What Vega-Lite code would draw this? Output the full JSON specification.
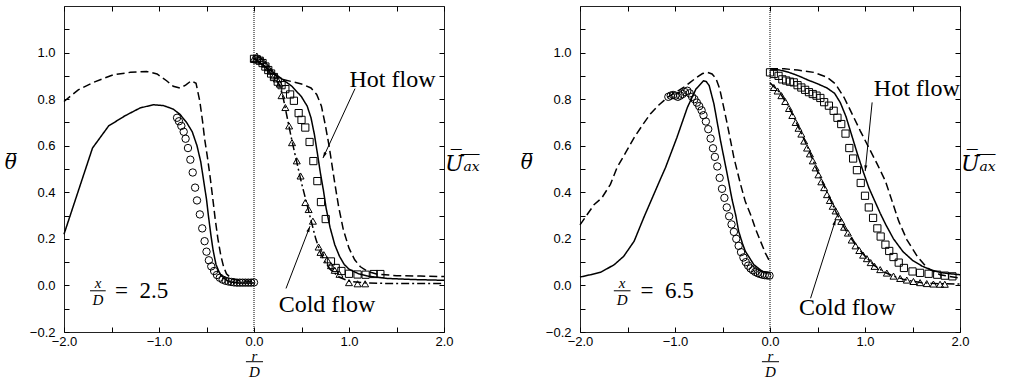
{
"$schema":"https://vega.github.io/schema/vega-lite/v6.json",
"padding":{"left":3,"top":5,"right":5,"bottom":2},
"background":"white",
"config":{
 "view":{"stroke":"#222","strokeWidth":1},
 "axis":{"domain":false,"grid":false,"tickColor":"black","tickSize":-5,"tickWidth":1,"labelFont":"Liberation Sans","labelFontSize":13,"labelColor":"black","labelOverlap":false,"labelFlush":false,"labelBound":false,"titleColor":"black","titleFontWeight":"normal"}
},
"datasets":{
"p1":[
{"s":"ts","r":-2.0,"v":0.22},{"s":"ts","r":-1.7,"v":0.59},{"s":"ts","r":-1.53,"v":0.685},{"s":"ts","r":-1.36,"v":0.728},{"s":"ts","r":-1.2,"v":0.762},{"s":"ts","r":-1.06,"v":0.776},{"s":"ts","r":-0.95,"v":0.772},{"s":"ts","r":-0.85,"v":0.757},{"s":"ts","r":-0.78,"v":0.735},{"s":"ts","r":-0.71,"v":0.70},{"s":"ts","r":-0.65,"v":0.66},{"s":"ts","r":-0.60,"v":0.60},{"s":"ts","r":-0.56,"v":0.53},{"s":"ts","r":-0.53,"v":0.45},{"s":"ts","r":-0.50,"v":0.37},{"s":"ts","r":-0.48,"v":0.30},{"s":"ts","r":-0.455,"v":0.22},{"s":"ts","r":-0.43,"v":0.15},{"s":"ts","r":-0.40,"v":0.09},{"s":"ts","r":-0.36,"v":0.05},{"s":"ts","r":-0.30,"v":0.025},{"s":"ts","r":-0.25,"v":0.015},{"s":"ts","r":-0.15,"v":0.01},{"s":"ts","r":0,"v":0.01},
{"s":"td","r":-2.0,"v":0.79},{"s":"td","r":-1.85,"v":0.84},{"s":"td","r":-1.69,"v":0.872},{"s":"td","r":-1.48,"v":0.905},{"s":"td","r":-1.3,"v":0.915},{"s":"td","r":-1.13,"v":0.919},{"s":"td","r":-1.02,"v":0.908},{"s":"td","r":-0.92,"v":0.879},{"s":"td","r":-0.85,"v":0.855},{"s":"td","r":-0.78,"v":0.848},{"s":"td","r":-0.72,"v":0.86},{"s":"td","r":-0.66,"v":0.879},{"s":"td","r":-0.61,"v":0.868},{"s":"td","r":-0.57,"v":0.79},{"s":"td","r":-0.54,"v":0.70},{"s":"td","r":-0.52,"v":0.63},{"s":"td","r":-0.49,"v":0.55},{"s":"td","r":-0.46,"v":0.46},{"s":"td","r":-0.43,"v":0.36},{"s":"td","r":-0.41,"v":0.29},{"s":"td","r":-0.38,"v":0.2},{"s":"td","r":-0.35,"v":0.13},{"s":"td","r":-0.32,"v":0.08},{"s":"td","r":-0.29,"v":0.05},{"s":"td","r":-0.24,"v":0.03},{"s":"td","r":-0.15,"v":0.02},{"s":"td","r":0,"v":0.018},
{"s":"tc","r":-0.81,"v":0.72},{"s":"tc","r":-0.79,"v":0.705},{"s":"tc","r":-0.765,"v":0.685},{"s":"tc","r":-0.74,"v":0.66},{"s":"tc","r":-0.72,"v":0.63},{"s":"tc","r":-0.695,"v":0.59},{"s":"tc","r":-0.67,"v":0.54},{"s":"tc","r":-0.645,"v":0.485},{"s":"tc","r":-0.62,"v":0.42},{"s":"tc","r":-0.60,"v":0.365},{"s":"tc","r":-0.57,"v":0.305},{"s":"tc","r":-0.545,"v":0.245},{"s":"tc","r":-0.52,"v":0.19},{"s":"tc","r":-0.50,"v":0.145},{"s":"tc","r":-0.475,"v":0.108},{"s":"tc","r":-0.45,"v":0.082},{"s":"tc","r":-0.42,"v":0.062},{"s":"tc","r":-0.39,"v":0.045},{"s":"tc","r":-0.36,"v":0.033},{"s":"tc","r":-0.33,"v":0.025},{"s":"tc","r":-0.30,"v":0.02},{"s":"tc","r":-0.27,"v":0.017},{"s":"tc","r":-0.24,"v":0.015},{"s":"tc","r":-0.21,"v":0.013},{"s":"tc","r":-0.18,"v":0.012},{"s":"tc","r":-0.15,"v":0.012},{"s":"tc","r":-0.12,"v":0.012},{"s":"tc","r":-0.09,"v":0.012},{"s":"tc","r":-0.06,"v":0.012},{"s":"tc","r":-0.03,"v":0.012},{"s":"tc","r":0.0,"v":0.013},
{"s":"us","r":0,"v":0.975},{"s":"us","r":0.1,"v":0.945},{"s":"us","r":0.2,"v":0.915},{"s":"us","r":0.3,"v":0.885},{"s":"us","r":0.4,"v":0.855},{"s":"us","r":0.5,"v":0.81},{"s":"us","r":0.56,"v":0.77},{"s":"us","r":0.6,"v":0.72},{"s":"us","r":0.635,"v":0.65},{"s":"us","r":0.67,"v":0.56},{"s":"us","r":0.7,"v":0.48},{"s":"us","r":0.73,"v":0.41},{"s":"us","r":0.76,"v":0.33},{"s":"us","r":0.8,"v":0.25},{"s":"us","r":0.85,"v":0.175},{"s":"us","r":0.9,"v":0.125},{"s":"us","r":0.95,"v":0.09},{"s":"us","r":1.0,"v":0.07},{"s":"us","r":1.1,"v":0.05},{"s":"us","r":1.2,"v":0.04},{"s":"us","r":1.4,"v":0.03},{"s":"us","r":1.7,"v":0.025},{"s":"us","r":2.0,"v":0.022},
{"s":"ud","r":0,"v":0.975},{"s":"ud","r":0.1,"v":0.945},{"s":"ud","r":0.2,"v":0.91},{"s":"ud","r":0.3,"v":0.885},{"s":"ud","r":0.4,"v":0.875},{"s":"ud","r":0.5,"v":0.865},{"s":"ud","r":0.6,"v":0.848},{"s":"ud","r":0.66,"v":0.82},{"s":"ud","r":0.71,"v":0.77},{"s":"ud","r":0.75,"v":0.69},{"s":"ud","r":0.79,"v":0.6},{"s":"ud","r":0.82,"v":0.52},{"s":"ud","r":0.85,"v":0.44},{"s":"ud","r":0.89,"v":0.34},{"s":"ud","r":0.94,"v":0.24},{"s":"ud","r":1.0,"v":0.16},{"s":"ud","r":1.06,"v":0.11},{"s":"ud","r":1.12,"v":0.08},{"s":"ud","r":1.2,"v":0.06},{"s":"ud","r":1.3,"v":0.048},{"s":"ud","r":1.5,"v":0.042},{"s":"ud","r":1.75,"v":0.04},{"s":"ud","r":2.0,"v":0.038},
{"s":"uc","r":0,"v":0.975},{"s":"uc","r":0.1,"v":0.945},{"s":"uc","r":0.2,"v":0.9},{"s":"uc","r":0.27,"v":0.86},{"s":"uc","r":0.31,"v":0.8},{"s":"uc","r":0.35,"v":0.72},{"s":"uc","r":0.4,"v":0.62},{"s":"uc","r":0.45,"v":0.53},{"s":"uc","r":0.5,"v":0.44},{"s":"uc","r":0.55,"v":0.36},{"s":"uc","r":0.6,"v":0.28},{"s":"uc","r":0.65,"v":0.2},{"s":"uc","r":0.7,"v":0.14},{"s":"uc","r":0.75,"v":0.1},{"s":"uc","r":0.8,"v":0.07},{"s":"uc","r":0.9,"v":0.035},{"s":"uc","r":1.0,"v":0.018},{"s":"uc","r":1.2,"v":0.01},{"s":"uc","r":1.5,"v":0.008},{"s":"uc","r":2.0,"v":0.008},
{"s":"uh","r":0.0,"v":0.973},{"s":"uh","r":0.03,"v":0.97},{"s":"uh","r":0.06,"v":0.965},{"s":"uh","r":0.09,"v":0.955},{"s":"uh","r":0.12,"v":0.94},{"s":"uh","r":0.15,"v":0.925},{"s":"uh","r":0.18,"v":0.91},{"s":"uh","r":0.21,"v":0.895},{"s":"uh","r":0.25,"v":0.875},{"s":"uh","r":0.29,"v":0.86},{"s":"uh","r":0.33,"v":0.843},{"s":"uh","r":0.38,"v":0.82},{"s":"uh","r":0.42,"v":0.793},{"s":"uh","r":0.47,"v":0.74},{"s":"uh","r":0.50,"v":0.711},{"s":"uh","r":0.54,"v":0.678},{"s":"uh","r":0.585,"v":0.616},{"s":"uh","r":0.625,"v":0.534},{"s":"uh","r":0.667,"v":0.448},{"s":"uh","r":0.705,"v":0.358},{"s":"uh","r":0.755,"v":0.285},{"s":"uh","r":0.81,"v":0.103},{"s":"uh","r":0.86,"v":0.075},{"s":"uh","r":0.92,"v":0.062},{"s":"uh","r":1.0,"v":0.05},{"s":"uh","r":1.09,"v":0.047},{"s":"uh","r":1.175,"v":0.046},{"s":"uh","r":1.26,"v":0.049},{"s":"uh","r":1.33,"v":0.049},
{"s":"ut","r":0.0,"v":0.975},{"s":"ut","r":0.03,"v":0.985},{"s":"ut","r":0.06,"v":0.975},{"s":"ut","r":0.09,"v":0.965},{"s":"ut","r":0.12,"v":0.95},{"s":"ut","r":0.15,"v":0.935},{"s":"ut","r":0.18,"v":0.92},{"s":"ut","r":0.21,"v":0.9},{"s":"ut","r":0.24,"v":0.887},{"s":"ut","r":0.27,"v":0.865},{"s":"ut","r":0.29,"v":0.815},{"s":"ut","r":0.33,"v":0.764},{"s":"ut","r":0.37,"v":0.685},{"s":"ut","r":0.40,"v":0.613},{"s":"ut","r":0.45,"v":0.535},{"s":"ut","r":0.49,"v":0.47},{"s":"ut","r":0.54,"v":0.356},{"s":"ut","r":0.575,"v":0.326},{"s":"ut","r":0.62,"v":0.276},{"s":"ut","r":0.68,"v":0.165},{"s":"ut","r":0.70,"v":0.142},{"s":"ut","r":0.735,"v":0.132},{"s":"ut","r":0.77,"v":0.11},{"s":"ut","r":0.81,"v":0.085},{"s":"ut","r":0.85,"v":0.065},{"s":"ut","r":0.9,"v":0.048},{"s":"ut","r":1.0,"v":0.012},{"s":"ut","r":1.09,"v":0.007},{"s":"ut","r":1.17,"v":0.007}
],
"p2":[
{"s":"ts","r":-2.0,"v":0.036},{"s":"ts","r":-1.9,"v":0.045},{"s":"ts","r":-1.78,"v":0.057},{"s":"ts","r":-1.64,"v":0.089},{"s":"ts","r":-1.54,"v":0.125},{"s":"ts","r":-1.43,"v":0.19},{"s":"ts","r":-1.33,"v":0.29},{"s":"ts","r":-1.24,"v":0.375},{"s":"ts","r":-1.15,"v":0.46},{"s":"ts","r":-1.1,"v":0.506},{"s":"ts","r":-0.98,"v":0.635},{"s":"ts","r":-0.87,"v":0.764},{"s":"ts","r":-0.78,"v":0.843},{"s":"ts","r":-0.70,"v":0.879},{"s":"ts","r":-0.67,"v":0.875},{"s":"ts","r":-0.64,"v":0.858},{"s":"ts","r":-0.59,"v":0.779},{"s":"ts","r":-0.52,"v":0.62},{"s":"ts","r":-0.45,"v":0.477},{"s":"ts","r":-0.40,"v":0.37},{"s":"ts","r":-0.36,"v":0.3},{"s":"ts","r":-0.33,"v":0.233},{"s":"ts","r":-0.29,"v":0.18},{"s":"ts","r":-0.26,"v":0.147},{"s":"ts","r":-0.17,"v":0.089},{"s":"ts","r":-0.08,"v":0.06},{"s":"ts","r":0,"v":0.053},
{"s":"td","r":-2.0,"v":0.26},{"s":"td","r":-1.85,"v":0.348},{"s":"td","r":-1.77,"v":0.376},{"s":"td","r":-1.68,"v":0.434},{"s":"td","r":-1.61,"v":0.506},{"s":"td","r":-1.52,"v":0.57},{"s":"td","r":-1.43,"v":0.635},{"s":"td","r":-1.34,"v":0.69},{"s":"td","r":-1.26,"v":0.736},{"s":"td","r":-1.17,"v":0.775},{"s":"td","r":-1.08,"v":0.807},{"s":"td","r":-0.99,"v":0.83},{"s":"td","r":-0.91,"v":0.85},{"s":"td","r":-0.84,"v":0.872},{"s":"td","r":-0.77,"v":0.894},{"s":"td","r":-0.71,"v":0.91},{"s":"td","r":-0.66,"v":0.915},{"s":"td","r":-0.61,"v":0.908},{"s":"td","r":-0.57,"v":0.89},{"s":"td","r":-0.53,"v":0.845},{"s":"td","r":-0.49,"v":0.77},{"s":"td","r":-0.45,"v":0.693},{"s":"td","r":-0.38,"v":0.549},{"s":"td","r":-0.31,"v":0.434},{"s":"td","r":-0.26,"v":0.36},{"s":"td","r":-0.2,"v":0.3},{"s":"td","r":-0.15,"v":0.24},{"s":"td","r":-0.1,"v":0.19},{"s":"td","r":-0.05,"v":0.14},{"s":"td","r":0,"v":0.1},
{"s":"tc","r":-1.07,"v":0.81},{"s":"tc","r":-1.045,"v":0.815},{"s":"tc","r":-1.02,"v":0.818},{"s":"tc","r":-0.995,"v":0.815},{"s":"tc","r":-0.97,"v":0.81},{"s":"tc","r":-0.945,"v":0.815},{"s":"tc","r":-0.92,"v":0.822},{"s":"tc","r":-0.895,"v":0.83},{"s":"tc","r":-0.87,"v":0.836},{"s":"tc","r":-0.845,"v":0.825},{"s":"tc","r":-0.82,"v":0.81},{"s":"tc","r":-0.795,"v":0.8},{"s":"tc","r":-0.77,"v":0.785},{"s":"tc","r":-0.745,"v":0.77},{"s":"tc","r":-0.72,"v":0.752},{"s":"tc","r":-0.7,"v":0.731},{"s":"tc","r":-0.675,"v":0.704},{"s":"tc","r":-0.65,"v":0.671},{"s":"tc","r":-0.625,"v":0.631},{"s":"tc","r":-0.6,"v":0.589},{"s":"tc","r":-0.58,"v":0.552},{"s":"tc","r":-0.555,"v":0.511},{"s":"tc","r":-0.53,"v":0.462},{"s":"tc","r":-0.505,"v":0.415},{"s":"tc","r":-0.48,"v":0.376},{"s":"tc","r":-0.455,"v":0.335},{"s":"tc","r":-0.43,"v":0.297},{"s":"tc","r":-0.405,"v":0.262},{"s":"tc","r":-0.38,"v":0.23},{"s":"tc","r":-0.355,"v":0.2},{"s":"tc","r":-0.33,"v":0.17},{"s":"tc","r":-0.305,"v":0.143},{"s":"tc","r":-0.28,"v":0.12},{"s":"tc","r":-0.255,"v":0.1},{"s":"tc","r":-0.23,"v":0.085},{"s":"tc","r":-0.205,"v":0.073},{"s":"tc","r":-0.18,"v":0.065},{"s":"tc","r":-0.155,"v":0.058},{"s":"tc","r":-0.13,"v":0.053},{"s":"tc","r":-0.105,"v":0.049},{"s":"tc","r":-0.08,"v":0.046},{"s":"tc","r":-0.055,"v":0.044},{"s":"tc","r":-0.03,"v":0.043},{"s":"tc","r":-0.005,"v":0.042},
{"s":"us","r":0,"v":0.93},{"s":"us","r":0.1,"v":0.925},{"s":"us","r":0.2,"v":0.915},{"s":"us","r":0.3,"v":0.9},{"s":"us","r":0.4,"v":0.882},{"s":"us","r":0.5,"v":0.866},{"s":"us","r":0.6,"v":0.848},{"s":"us","r":0.68,"v":0.825},{"s":"us","r":0.74,"v":0.785},{"s":"us","r":0.8,"v":0.725},{"s":"us","r":0.86,"v":0.645},{"s":"us","r":0.92,"v":0.565},{"s":"us","r":0.98,"v":0.49},{"s":"us","r":1.04,"v":0.42},{"s":"us","r":1.1,"v":0.365},{"s":"us","r":1.16,"v":0.31},{"s":"us","r":1.22,"v":0.26},{"s":"us","r":1.3,"v":0.2},{"s":"us","r":1.4,"v":0.145},{"s":"us","r":1.5,"v":0.108},{"s":"us","r":1.6,"v":0.083},{"s":"us","r":1.7,"v":0.066},{"s":"us","r":1.8,"v":0.055},{"s":"us","r":1.9,"v":0.05},{"s":"us","r":2.0,"v":0.046},
{"s":"ud","r":0,"v":0.93},{"s":"ud","r":0.15,"v":0.93},{"s":"ud","r":0.29,"v":0.925},{"s":"ud","r":0.46,"v":0.915},{"s":"ud","r":0.6,"v":0.894},{"s":"ud","r":0.69,"v":0.865},{"s":"ud","r":0.78,"v":0.807},{"s":"ud","r":0.865,"v":0.736},{"s":"ud","r":0.95,"v":0.664},{"s":"ud","r":1.04,"v":0.592},{"s":"ud","r":1.13,"v":0.52},{"s":"ud","r":1.215,"v":0.448},{"s":"ud","r":1.285,"v":0.362},{"s":"ud","r":1.355,"v":0.276},{"s":"ud","r":1.44,"v":0.197},{"s":"ud","r":1.55,"v":0.125},{"s":"ud","r":1.655,"v":0.075},{"s":"ud","r":1.79,"v":0.046},{"s":"ud","r":2.0,"v":0.031},
{"s":"uc","r":0,"v":0.87},{"s":"uc","r":0.1,"v":0.83},{"s":"uc","r":0.2,"v":0.765},{"s":"uc","r":0.3,"v":0.68},{"s":"uc","r":0.4,"v":0.59},{"s":"uc","r":0.5,"v":0.49},{"s":"uc","r":0.6,"v":0.4},{"s":"uc","r":0.7,"v":0.31},{"s":"uc","r":0.8,"v":0.235},{"s":"uc","r":0.9,"v":0.175},{"s":"uc","r":1.0,"v":0.125},{"s":"uc","r":1.1,"v":0.085},{"s":"uc","r":1.2,"v":0.058},{"s":"uc","r":1.3,"v":0.04},{"s":"uc","r":1.4,"v":0.027},{"s":"uc","r":1.5,"v":0.018},{"s":"uc","r":1.6,"v":0.012},{"s":"uc","r":1.7,"v":0.009},{"s":"uc","r":1.8,"v":0.007},{"s":"uc","r":2.0,"v":0.006},
{"s":"uh","r":0.0,"v":0.915},{"s":"uh","r":0.04,"v":0.908},{"s":"uh","r":0.09,"v":0.9},{"s":"uh","r":0.13,"v":0.885},{"s":"uh","r":0.17,"v":0.88},{"s":"uh","r":0.21,"v":0.875},{"s":"uh","r":0.25,"v":0.872},{"s":"uh","r":0.29,"v":0.86},{"s":"uh","r":0.33,"v":0.85},{"s":"uh","r":0.37,"v":0.84},{"s":"uh","r":0.41,"v":0.83},{"s":"uh","r":0.45,"v":0.822},{"s":"uh","r":0.49,"v":0.815},{"s":"uh","r":0.53,"v":0.805},{"s":"uh","r":0.57,"v":0.787},{"s":"uh","r":0.62,"v":0.772},{"s":"uh","r":0.67,"v":0.75},{"s":"uh","r":0.71,"v":0.72},{"s":"uh","r":0.75,"v":0.693},{"s":"uh","r":0.795,"v":0.652},{"s":"uh","r":0.835,"v":0.59},{"s":"uh","r":0.875,"v":0.545},{"s":"uh","r":0.915,"v":0.495},{"s":"uh","r":0.955,"v":0.44},{"s":"uh","r":1.0,"v":0.385},{"s":"uh","r":1.04,"v":0.335},{"s":"uh","r":1.085,"v":0.29},{"s":"uh","r":1.13,"v":0.245},{"s":"uh","r":1.165,"v":0.21},{"s":"uh","r":1.215,"v":0.175},{"s":"uh","r":1.255,"v":0.148},{"s":"uh","r":1.3,"v":0.122},{"s":"uh","r":1.355,"v":0.098},{"s":"uh","r":1.41,"v":0.075},{"s":"uh","r":1.5,"v":0.06},{"s":"uh","r":1.58,"v":0.054},{"s":"uh","r":1.67,"v":0.05},{"s":"uh","r":1.76,"v":0.046},{"s":"uh","r":1.84,"v":0.042},{"s":"uh","r":1.92,"v":0.039},
{"s":"ut","r":0.04,"v":0.85},{"s":"ut","r":0.08,"v":0.835},{"s":"ut","r":0.12,"v":0.815},{"s":"ut","r":0.16,"v":0.79},{"s":"ut","r":0.2,"v":0.76},{"s":"ut","r":0.235,"v":0.73},{"s":"ut","r":0.27,"v":0.70},{"s":"ut","r":0.3,"v":0.675},{"s":"ut","r":0.33,"v":0.65},{"s":"ut","r":0.36,"v":0.62},{"s":"ut","r":0.39,"v":0.59},{"s":"ut","r":0.42,"v":0.565},{"s":"ut","r":0.45,"v":0.535},{"s":"ut","r":0.48,"v":0.505},{"s":"ut","r":0.51,"v":0.475},{"s":"ut","r":0.54,"v":0.445},{"s":"ut","r":0.57,"v":0.42},{"s":"ut","r":0.6,"v":0.39},{"s":"ut","r":0.63,"v":0.365},{"s":"ut","r":0.66,"v":0.34},{"s":"ut","r":0.69,"v":0.32},{"s":"ut","r":0.72,"v":0.295},{"s":"ut","r":0.75,"v":0.275},{"s":"ut","r":0.78,"v":0.25},{"s":"ut","r":0.82,"v":0.225},{"s":"ut","r":0.86,"v":0.195},{"s":"ut","r":0.9,"v":0.17},{"s":"ut","r":0.94,"v":0.15},{"s":"ut","r":0.98,"v":0.13},{"s":"ut","r":1.02,"v":0.115},{"s":"ut","r":1.06,"v":0.098},{"s":"ut","r":1.1,"v":0.082},{"s":"ut","r":1.16,"v":0.068},{"s":"ut","r":1.23,"v":0.053},{"s":"ut","r":1.3,"v":0.04},{"s":"ut","r":1.37,"v":0.03},{"s":"ut","r":1.44,"v":0.023},{"s":"ut","r":1.51,"v":0.017},{"s":"ut","r":1.58,"v":0.012},{"s":"ut","r":1.65,"v":0.008},{"s":"ut","r":1.72,"v":0.006},{"s":"ut","r":1.79,"v":0.005},{"s":"ut","r":1.84,"v":0.005}
]
},
"bounds":"flush",
"spacing":136,
"hconcat":[
{
"width":380,"height":326,
"resolve":{"axis":{"x":"independent","y":"independent"}},
"layer":[
{"data":{"values":[{"r":0}]},"mark":{"type":"rule","color":"black","strokeWidth":1,"strokeDash":[1,1]},
 "encoding":{"x":{"field":"r","type":"quantitative","scale":{"domain":[-2,2],"nice":false,"zero":false},"axis":null}}},
{"data":{"name":"p1"},"transform":[{"filter":{"field":"s","oneOf":["ts","td","us","ud","uc"]}}],
 "mark":{"type":"line","color":"black","strokeWidth":1.5},
 "encoding":{
  "x":{"field":"r","type":"quantitative","scale":{"domain":[-2,2],"nice":false,"zero":false},
   "axis":{"orient":"bottom","values":[-2,-1.5,-1,-0.5,0,0.5,1,1.5,2],"labelExpr":"datum.value % 1 == 0 ? format(datum.value,'.1f') : ''","labelPadding":8,"title":["r","D"],"titleFont":"Liberation Serif","titleFontStyle":"italic","titleFontSize":15,"titleLineHeight":16,"titlePadding":0}},
  "y":{"field":"v","type":"quantitative","scale":{"domain":[-0.2,1.2],"nice":false,"zero":false},
   "axis":{"orient":"left","values":[-0.2,-0.1,0,0.1,0.2,0.3,0.4,0.5,0.6,0.7,0.8,0.9,1.0,1.1],"labelExpr":"round(datum.value*10) % 2 == 0 ? format(datum.value,'.1f') : ''","labelPadding":14,"title":"\u03b8\u0305","titleFont":"DejaVu Serif","titleFontStyle":"italic","titleFontSize":20,"titleAngle":0,"titleAlign":"right","titleBaseline":"middle","titlePadding":13,"titleY":156}},
  "strokeDash":{"field":"s","type":"nominal","scale":{"domain":["ts","td","us","ud","uc"],"range":[[1,0],[8,4],[1,0],[8,4],[8,3,2,3]]},"legend":null}
 }},
{"data":{"name":"p1"},"transform":[{"filter":{"field":"s","oneOf":["tc","uh","ut"]}}],
 "mark":{"type":"point","filled":false,"color":"black","strokeWidth":1,"opacity":1},
 "encoding":{
  "x":{"field":"r","type":"quantitative","scale":{"domain":[-2,2],"nice":false,"zero":false},
   "axis":{"orient":"top","values":[-2,-1.5,-1,-0.5,0,0.5,1,1.5,2],"labels":false,"title":null}},
  "y":{"field":"v","type":"quantitative","scale":{"domain":[-0.2,1.2],"nice":false,"zero":false},
   "axis":{"orient":"right","values":[-0.2,-0.1,0,0.1,0.2,0.3,0.4,0.5,0.6,0.7,0.8,0.9,1.0,1.1],"labels":false,"title":"U\u0305\u2090\u0305\u2093\u0305","titleFont":"DejaVu Serif","titleFontStyle":"italic","titleFontSize":22,"titleAngle":0,"titleAlign":"left","titleBaseline":"middle","titlePadding":0,"titleY":157}},
  "shape":{"field":"s","type":"nominal","scale":{"domain":["tc","uh","ut"],"range":["circle","square","triangle-up"]},"legend":null},
  "size":{"field":"s","type":"nominal","scale":{"domain":["tc","uh","ut"],"range":[55,49,60]},"legend":null}
 }},
{"data":{"values":[{"r":1.458,"v":0.853,"t":"Hot flow"},{"r":0.768,"v":-0.112,"t":"Cold flow"}]},
 "mark":{"type":"text","font":"Liberation Serif","fontSize":24,"align":"center","baseline":"alphabetic","color":"black"},
 "encoding":{"x":{"field":"r","type":"quantitative","scale":{"domain":[-2,2],"nice":false,"zero":false},"axis":null},"y":{"field":"v","type":"quantitative","scale":{"domain":[-0.2,1.2],"nice":false,"zero":false},"axis":null},"text":{"field":"t"}}},
{"data":{"values":[{"r":-1.642,"v":-0.012,"t":"x"},{"r":-1.642,"v":-0.086,"t":"D"}]},
 "mark":{"type":"text","font":"Liberation Serif","fontStyle":"italic","fontSize":15,"align":"center","baseline":"alphabetic","color":"black"},
 "encoding":{"x":{"field":"r","type":"quantitative","scale":{"domain":[-2,2],"nice":false,"zero":false},"axis":null},"y":{"field":"v","type":"quantitative","scale":{"domain":[-0.2,1.2],"nice":false,"zero":false},"axis":null},"text":{"field":"t"}}},
{"data":{"values":[{"r":-1.463,"v":-0.055,"t":"=\u20022.5"}]},
 "mark":{"type":"text","font":"Liberation Serif","fontSize":23,"align":"left","baseline":"alphabetic","color":"black"},
 "encoding":{"x":{"field":"r","type":"quantitative","scale":{"domain":[-2,2],"nice":false,"zero":false},"axis":null},"y":{"field":"v","type":"quantitative","scale":{"domain":[-0.2,1.2],"nice":false,"zero":false},"axis":null},"text":{"field":"t"}}},
{"data":{"values":[{"r":-1.726,"r2":-1.561,"v":-0.023},{"r":-0.085,"r2":0.095,"v":-0.3276}]},
 "mark":{"type":"rule","color":"black","strokeWidth":1},
 "encoding":{"x":{"field":"r","type":"quantitative","scale":{"domain":[-2,2],"nice":false,"zero":false},"axis":null},"x2":{"field":"r2"},"y":{"field":"v","type":"quantitative","scale":{"domain":[-0.2,1.2],"nice":false,"zero":false},"axis":null}}},
{"data":{"values":[{"r":1.063,"v":0.845,"r2":0.726,"v2":0.547},{"r":0.337,"v":-0.013,"r2":0.589,"v2":0.254}]},
 "mark":{"type":"rule","color":"black","strokeWidth":1},
 "encoding":{"x":{"field":"r","type":"quantitative","scale":{"domain":[-2,2],"nice":false,"zero":false},"axis":null},"x2":{"field":"r2"},"y":{"field":"v","type":"quantitative","scale":{"domain":[-0.2,1.2],"nice":false,"zero":false},"axis":null},"y2":{"field":"v2"}}},
{"data":{"values":[{"r":0.726,"v":0.547}]},
 "mark":{"type":"point","shape":"M0,0L0.7,2.6L-0.7,2.6Z","size":20,"filled":true,"color":"black","opacity":1,"angle":204.9,"strokeWidth":0},
 "encoding":{"x":{"field":"r","type":"quantitative","scale":{"domain":[-2,2],"nice":false,"zero":false},"axis":null},"y":{"field":"v","type":"quantitative","scale":{"domain":[-0.2,1.2],"nice":false,"zero":false},"axis":null}}},
{"data":{"values":[{"r":0.589,"v":0.254}]},
 "mark":{"type":"point","shape":"M0,0L0.7,2.6L-0.7,2.6Z","size":20,"filled":true,"color":"black","opacity":1,"angle":21.2,"strokeWidth":0},
 "encoding":{"x":{"field":"r","type":"quantitative","scale":{"domain":[-2,2],"nice":false,"zero":false},"axis":null},"y":{"field":"v","type":"quantitative","scale":{"domain":[-0.2,1.2],"nice":false,"zero":false},"axis":null}}}
]
},
{
"width":380,"height":326,
"resolve":{"axis":{"x":"independent","y":"independent"}},
"layer":[
{"data":{"values":[{"r":0}]},"mark":{"type":"rule","color":"black","strokeWidth":1,"strokeDash":[1,1]},
 "encoding":{"x":{"field":"r","type":"quantitative","scale":{"domain":[-2,2],"nice":false,"zero":false},"axis":null}}},
{"data":{"name":"p2"},"transform":[{"filter":{"field":"s","oneOf":["ts","td","us","ud","uc"]}}],
 "mark":{"type":"line","color":"black","strokeWidth":1.5},
 "encoding":{
  "x":{"field":"r","type":"quantitative","scale":{"domain":[-2,2],"nice":false,"zero":false},
   "axis":{"orient":"bottom","values":[-2,-1.5,-1,-0.5,0,0.5,1,1.5,2],"labelExpr":"datum.value % 1 == 0 ? format(datum.value,'.1f') : ''","labelPadding":8,"title":["r","D"],"titleFont":"Liberation Serif","titleFontStyle":"italic","titleFontSize":15,"titleLineHeight":16,"titlePadding":0}},
  "y":{"field":"v","type":"quantitative","scale":{"domain":[-0.2,1.2],"nice":false,"zero":false},
   "axis":{"orient":"left","values":[-0.2,-0.1,0,0.1,0.2,0.3,0.4,0.5,0.6,0.7,0.8,0.9,1.0,1.1],"labelExpr":"round(datum.value*10) % 2 == 0 ? format(datum.value,'.1f') : ''","labelPadding":14,"title":"\u03b8\u0305","titleFont":"DejaVu Serif","titleFontStyle":"italic","titleFontSize":20,"titleAngle":0,"titleAlign":"right","titleBaseline":"middle","titlePadding":13,"titleY":156}},
  "strokeDash":{"field":"s","type":"nominal","scale":{"domain":["ts","td","us","ud","uc"],"range":[[1,0],[8,4],[1,0],[8,4],[8,3,2,3]]},"legend":null}
 }},
{"data":{"name":"p2"},"transform":[{"filter":{"field":"s","oneOf":["tc","uh","ut"]}}],
 "mark":{"type":"point","filled":false,"color":"black","strokeWidth":1,"opacity":1},
 "encoding":{
  "x":{"field":"r","type":"quantitative","scale":{"domain":[-2,2],"nice":false,"zero":false},
   "axis":{"orient":"top","values":[-2,-1.5,-1,-0.5,0,0.5,1,1.5,2],"labels":false,"title":null}},
  "y":{"field":"v","type":"quantitative","scale":{"domain":[-0.2,1.2],"nice":false,"zero":false},
   "axis":{"orient":"right","values":[-0.2,-0.1,0,0.1,0.2,0.3,0.4,0.5,0.6,0.7,0.8,0.9,1.0,1.1],"labels":false,"title":"U\u0305\u2090\u0305\u2093\u0305","titleFont":"DejaVu Serif","titleFontStyle":"italic","titleFontSize":22,"titleAngle":0,"titleAlign":"left","titleBaseline":"middle","titlePadding":0,"titleY":157}},
  "shape":{"field":"s","type":"nominal","scale":{"domain":["tc","uh","ut"],"range":["circle","square","triangle-up"]},"legend":null},
  "size":{"field":"s","type":"nominal","scale":{"domain":["tc","uh","ut"],"range":[55,49,60]},"legend":null}
 }},
{"data":{"values":[{"r":1.546,"v":0.815,"t":"Hot flow"},{"r":0.815,"v":-0.125,"t":"Cold flow"}]},
 "mark":{"type":"text","font":"Liberation Serif","fontSize":24,"align":"center","baseline":"alphabetic","color":"black"},
 "encoding":{"x":{"field":"r","type":"quantitative","scale":{"domain":[-2,2],"nice":false,"zero":false},"axis":null},"y":{"field":"v","type":"quantitative","scale":{"domain":[-0.2,1.2],"nice":false,"zero":false},"axis":null},"text":{"field":"t"}}},
{"data":{"values":[{"r":-1.556,"v":-0.012,"t":"x"},{"r":-1.556,"v":-0.086,"t":"D"}]},
 "mark":{"type":"text","font":"Liberation Serif","fontStyle":"italic","fontSize":15,"align":"center","baseline":"alphabetic","color":"black"},
 "encoding":{"x":{"field":"r","type":"quantitative","scale":{"domain":[-2,2],"nice":false,"zero":false},"axis":null},"y":{"field":"v","type":"quantitative","scale":{"domain":[-0.2,1.2],"nice":false,"zero":false},"axis":null},"text":{"field":"t"}}},
{"data":{"values":[{"r":-1.363,"v":-0.055,"t":"=\u20026.5"}]},
 "mark":{"type":"text","font":"Liberation Serif","fontSize":23,"align":"left","baseline":"alphabetic","color":"black"},
 "encoding":{"x":{"field":"r","type":"quantitative","scale":{"domain":[-2,2],"nice":false,"zero":false},"axis":null},"y":{"field":"v","type":"quantitative","scale":{"domain":[-0.2,1.2],"nice":false,"zero":false},"axis":null},"text":{"field":"t"}}},
{"data":{"values":[{"r":-1.644,"r2":-1.468,"v":-0.023},{"r":-0.085,"r2":0.095,"v":-0.3276}]},
 "mark":{"type":"rule","color":"black","strokeWidth":1},
 "encoding":{"x":{"field":"r","type":"quantitative","scale":{"domain":[-2,2],"nice":false,"zero":false},"axis":null},"x2":{"field":"r2"},"y":{"field":"v","type":"quantitative","scale":{"domain":[-0.2,1.2],"nice":false,"zero":false},"axis":null}}},
{"data":{"values":[{"r":1.075,"v":0.786,"r2":1.002,"v2":0.491},{"r":0.427,"v":-0.055,"r2":0.691,"v2":0.283}]},
 "mark":{"type":"rule","color":"black","strokeWidth":1},
 "encoding":{"x":{"field":"r","type":"quantitative","scale":{"domain":[-2,2],"nice":false,"zero":false},"axis":null},"x2":{"field":"r2"},"y":{"field":"v","type":"quantitative","scale":{"domain":[-0.2,1.2],"nice":false,"zero":false},"axis":null},"y2":{"field":"v2"}}},
{"data":{"values":[{"r":1.002,"v":0.491}]},
 "mark":{"type":"point","shape":"M0,0L0.7,2.6L-0.7,2.6Z","size":20,"filled":true,"color":"black","opacity":1,"angle":186.2,"strokeWidth":0},
 "encoding":{"x":{"field":"r","type":"quantitative","scale":{"domain":[-2,2],"nice":false,"zero":false},"axis":null},"y":{"field":"v","type":"quantitative","scale":{"domain":[-0.2,1.2],"nice":false,"zero":false},"axis":null}}},
{"data":{"values":[{"r":0.691,"v":0.283}]},
 "mark":{"type":"point","shape":"M0,0L0.7,2.6L-0.7,2.6Z","size":20,"filled":true,"color":"black","opacity":1,"angle":17.7,"strokeWidth":0},
 "encoding":{"x":{"field":"r","type":"quantitative","scale":{"domain":[-2,2],"nice":false,"zero":false},"axis":null},"y":{"field":"v","type":"quantitative","scale":{"domain":[-0.2,1.2],"nice":false,"zero":false},"axis":null}}}
]
}
]
}
